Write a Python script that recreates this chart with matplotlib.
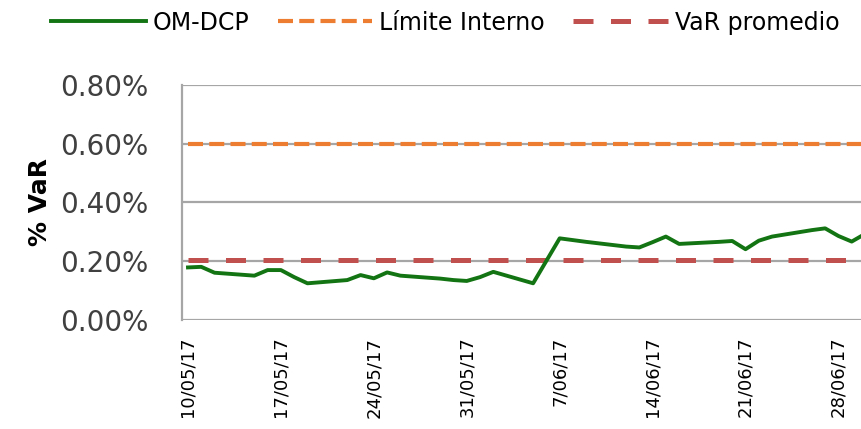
import pandas as pd
import matplotlib
matplotlib.use("Agg")
import matplotlib.pyplot as plt
import matplotlib.dates as mdates
import matplotlib.ticker as mticker

OUTPUT_FILE = "out.png"

# Business days shown in the chart
DATES = [
    "2017-05-10", "2017-05-11", "2017-05-12", "2017-05-15", "2017-05-16",
    "2017-05-17", "2017-05-18", "2017-05-19", "2017-05-22", "2017-05-23",
    "2017-05-24", "2017-05-25", "2017-05-26", "2017-05-29", "2017-05-30",
    "2017-05-31", "2017-06-01", "2017-06-02", "2017-06-05", "2017-06-07",
    "2017-06-08", "2017-06-09", "2017-06-12", "2017-06-13", "2017-06-14",
    "2017-06-15", "2017-06-16", "2017-06-19", "2017-06-20", "2017-06-21",
    "2017-06-22", "2017-06-23", "2017-06-26", "2017-06-27", "2017-06-28",
    "2017-06-29", "2017-06-30",
]
# OM-DCP VaR in %
VAR_OM_DCP = [
    0.179, 0.181, 0.161, 0.151, 0.170,
    0.170, 0.146, 0.125, 0.136, 0.153,
    0.142, 0.162, 0.151, 0.141, 0.136,
    0.133, 0.146, 0.164, 0.125, 0.278,
    0.272, 0.266, 0.250, 0.247, 0.265,
    0.284, 0.259, 0.266, 0.269, 0.241,
    0.270, 0.284, 0.306, 0.312, 0.286,
    0.267, 0.293,
]
LIMITE_INTERNO = 0.60
VAR_PROMEDIO = 0.205

TICK_DATES = ["2017-05-10", "2017-05-17", "2017-05-24", "2017-05-31",
              "2017-06-07", "2017-06-14", "2017-06-21", "2017-06-28"]
Y_TICKS = [0.0, 0.2, 0.4, 0.6, 0.8]


def plot_var_chart():
    dates = pd.to_datetime(DATES)
    start = pd.Timestamp("2017-05-10")

    fig = plt.figure(figsize=(8.61, 4.29), dpi=100)
    ax = fig.add_axes([0.2114, 0.254, 0.7886, 0.548])

    grid_color = "#a6a6a6"
    for y in Y_TICKS:
        ax.axhline(y, color=grid_color, linewidth=1.6, zorder=1)

    ax.plot(dates, [LIMITE_INTERNO] * len(dates), color="#ed7d31",
            linewidth=3.0, dashes=(3.6, 1.5), label="Límite Interno", zorder=3)
    ax.plot(dates, [VAR_PROMEDIO] * len(dates), color="#c0504d",
            linewidth=3.6, dashes=(4.0, 3.5), label="VaR promedio", zorder=3)
    ax.plot(dates, VAR_OM_DCP, color="#137413", linewidth=2.8,
            label="OM-DCP", zorder=4)

    ax.set_xlim(start - pd.Timedelta(days=0.45), start + pd.Timedelta(days=50.7))
    ax.set_ylim(0, 0.8)

    ax.set_xticks(pd.to_datetime(TICK_DATES))
    ax.xaxis.set_major_formatter(
        mticker.FuncFormatter(lambda x, _: mdates.num2date(x).strftime("%d/%m/%y").lstrip("0")))
    ax.set_yticks(Y_TICKS)
    ax.yaxis.set_major_formatter(mticker.FuncFormatter(lambda v, _: f"{v:.2f}%"))

    ax.tick_params(axis="x", labelrotation=90, labelsize=13, length=0, pad=12)
    ax.tick_params(axis="y", labelsize=20, length=0, pad=24, colors="#404040")
    ax.tick_params(axis="x", colors="#000000")

    for side in ["top", "right", "bottom"]:
        ax.spines[side].set_visible(False)
    ax.spines["left"].set_color(grid_color)
    ax.spines["left"].set_linewidth(1.6)

    ax.set_ylabel("% VaR", fontsize=18, fontweight="bold", labelpad=6)

    handles, labels = ax.get_legend_handles_labels()
    order = [2, 0, 1]
    fig.legend([handles[i] for i in order], [labels[i] for i in order],
               loc="upper left", bbox_to_anchor=(0.035, 1.025), ncol=3,
               frameon=False, fontsize=17, handlelength=4.0,
               handletextpad=0.3, columnspacing=1.2)

    fig.savefig(OUTPUT_FILE, dpi=100)


if __name__ == "__main__":
    plot_var_chart()
